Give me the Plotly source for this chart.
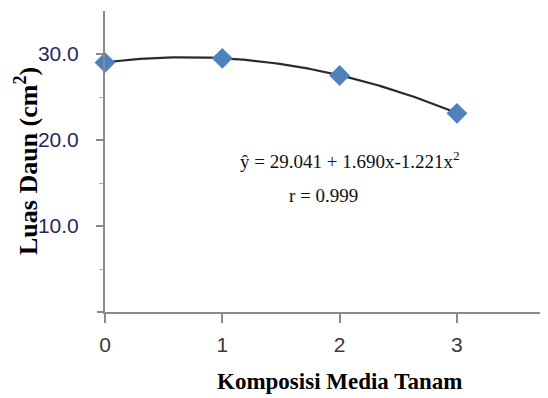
import numpy as np
import plotly.graph_objects as go

# Data
x_vals = [0, 1, 2, 3]
y_vals = [29.0, 29.5, 27.5, 23.1]
# Quadratic trendline coefficients shown on the chart: y = a + b x + c x^2
coef = [29.041, 1.690, -1.221]
x_ticks = [0, 1, 2, 3]
y_ticks = [10, 20, 30]
y_tick_text = ["10.0", "20.0", "30.0"]

xs = np.linspace(0, 3, 121)
ys = coef[0] + coef[1] * xs + coef[2] * xs ** 2

fig = go.Figure()
fig.add_trace(go.Scatter(x=xs, y=ys, mode="lines",
                         line=dict(color="#2b2b2b", width=2.2),
                         hoverinfo="skip", showlegend=False))
fig.add_trace(go.Scatter(x=x_vals, y=y_vals, mode="markers",
                         marker=dict(symbol="diamond", size=16, color="#4F81BD",
                                     line=dict(width=0)),
                         cliponaxis=False, showlegend=False))

serif = "Liberation Serif, Times New Roman, serif"
sans = "Liberation Sans, Arial, sans-serif"

# page body has an 8px margin: figure occupies screen pixels 8..548 x 8..398
OFF = 8
W, H = 548 - OFF, 398 - OFF
L, R, T = 105 - OFF, 0, 11 - OFF
B = H - (312 - OFF)
PW, PH = W - L - R, H - T - B


def px(xs_):
    return (xs_ - OFF - L) / PW


def py(ys_):
    return (H - B - (ys_ - OFF)) / PH


fig.add_annotation(x=px(350), y=py(160), xref="paper", yref="paper",
                   xanchor="center", yanchor="middle",
                   text="ŷ = 29.041 + 1.690x-1.221x<sup>2</sup>", showarrow=False,
                   font=dict(family=serif, size=19, color="#111"))
fig.add_annotation(x=px(323), y=py(195), xref="paper", yref="paper",
                   xanchor="center", yanchor="middle",
                   text="r = 0.999", showarrow=False,
                   font=dict(family=serif, size=19, color="#111"))
fig.add_annotation(x=px(339), y=py(381), xref="paper", yref="paper",
                   xanchor="center", yanchor="middle",
                   text="<b>Komposisi Media Tanam</b>", showarrow=False,
                   font=dict(family=serif, size=23, color="#000"))
fig.add_annotation(x=px(26), y=py(161), xref="paper", yref="paper", textangle=-90,
                   xanchor="center", yanchor="middle",
                   text="<b>Luas Daun (cm<sup>2</sup>)</b>", showarrow=False,
                   font=dict(family=serif, size=26, color="#000"))

# left extension of the x axis line (Excel "cross" tick at 0)
fig.add_shape(type="line", xref="paper", yref="paper", x0=px(97), x1=0, y0=0, y1=0,
              line=dict(color="#8a8a8a", width=2))

fig.update_layout(
    width=W, height=H,
    margin=dict(l=L, r=R, t=T, b=B),
    paper_bgcolor="white", plot_bgcolor="white",
    xaxis=dict(range=[0, 3.776], tickvals=x_ticks, ticktext=[str(v) for v in x_ticks],
               showgrid=False, zeroline=False, showline=True, linecolor="#8a8a8a", linewidth=2,
               ticks="outside", ticklen=9, tickwidth=2, tickcolor="#8a8a8a",
               tickfont=dict(family=sans, size=21, color="#3a3a3a"),
               ticklabelstandoff=4, automargin=False),
    yaxis=dict(range=[0, 35], tickvals=y_ticks, ticktext=y_tick_text,
               showgrid=False, zeroline=False, showline=True, linecolor="#8a8a8a", linewidth=2,
               ticks="outside", ticklen=7, tickwidth=2, tickcolor="#8a8a8a",
               minor=dict(tickvals=[5, 15, 25], ticks="outside", ticklen=4,
                          tickcolor="#b0b0b0", tickwidth=1),
               tickfont=dict(family=sans, size=21, color="#1f2a5a"),
               ticklabelstandoff=13, automargin=False),
)

fig.write_html("out.html")
